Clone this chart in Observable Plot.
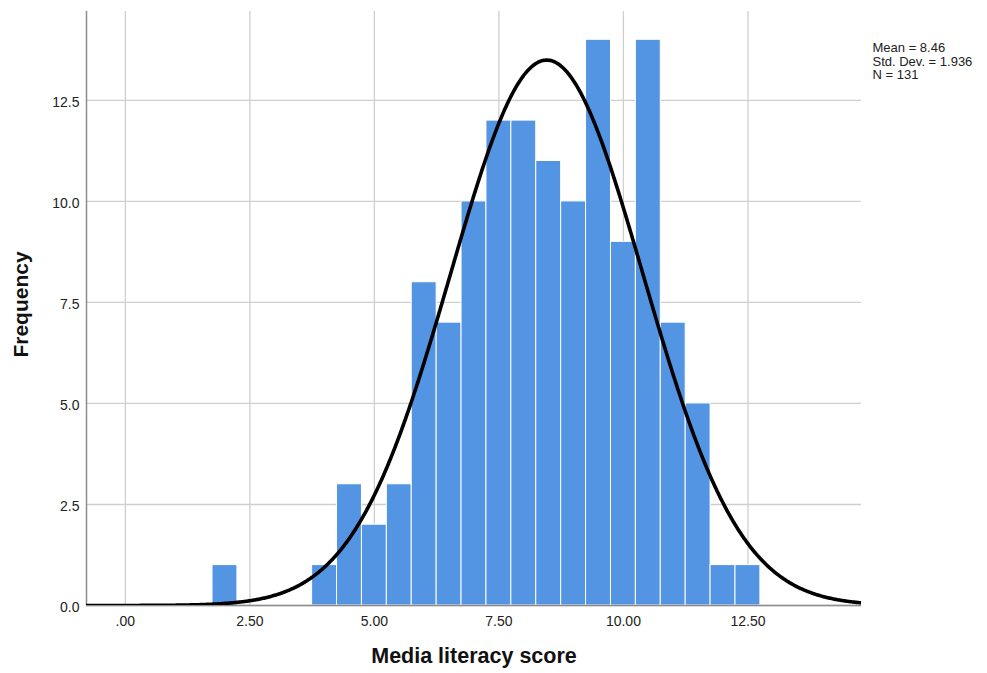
<!DOCTYPE html>
<html>
<head>
<meta charset="utf-8">
<script src="https://cdn.jsdelivr.net/npm/d3@7"></script>
<script src="https://cdn.jsdelivr.net/npm/@observablehq/plot@0.6"></script>
<style>
  html, body { margin: 0; padding: 0; background: #fff; }
  #chart { width: 987px; height: 673px; }
</style>
</head>
<body>
<div id="chart"></div>
<script>
// Histogram bins (centre of each 0.5-wide bin) and their frequencies
const binCenters = [2.0, 4.0, 4.5, 5.0, 5.5, 6.0, 6.5, 7.0, 7.5, 8.0, 8.5, 9.0, 9.5, 10.0, 10.5, 11.0, 11.5, 12.0, 12.5];
const frequencies = [1, 1, 3, 2, 3, 8, 7, 10, 12, 12, 11, 10, 14, 9, 14, 7, 5, 1, 1];
const binWidth = 0.5;

// Summary statistics shown in the legend (define the fitted normal curve)
const mean = 8.46;
const stdDev = 1.936;
const n = 131;

// Axis ticks
const xTicks = [0, 2.5, 5, 7.5, 10, 12.5];
const xTickLabels = [".00", "2.50", "5.00", "7.50", "10.00", "12.50"];
const yTicks = [0, 2.5, 5, 7.5, 10, 12.5];
const yTickLabels = ["0.0", "2.5", "5.0", "7.5", "10.0", "12.5"];

// Legend lines
const legendLines = [`Mean = ${mean}`, `Std. Dev. = ${stdDev}`, `N = ${n}`];

const xDomain = [-0.78, 14.78];
const yDomain = [0, 14.7];

const bars = binCenters.map((c, i) => ({x1: c - binWidth / 2, x2: c + binWidth / 2, y: frequencies[i]}));

// Normal curve scaled to the histogram: N * binWidth * pdf(x)
const curve = d3.range(xDomain[0], xDomain[1] + 0.001, 0.02).map(x => ({
  x,
  y: n * binWidth * Math.exp(-0.5 * ((x - mean) / stdDev) ** 2) / (stdDev * Math.sqrt(2 * Math.PI))
}));

const chart = Plot.plot({
  width: 987,
  height: 673,
  marginLeft: 86,
  marginRight: 126,
  marginTop: 11,
  marginBottom: 68,
  style: {fontFamily: "'Liberation Sans', Arial, sans-serif", fontSize: "14px", color: "#222", background: "#fff"},
  x: {domain: xDomain},
  y: {domain: yDomain},
  marks: [
    Plot.gridX(xTicks, {stroke: "#cfcfcf", strokeOpacity: 1, strokeWidth: 1.3}),
    Plot.gridY(yTicks, {stroke: "#cfcfcf", strokeOpacity: 1, strokeWidth: 1.3}),
    Plot.rectY(bars, {x1: "x1", x2: "x2", y: "y", fill: "#5394e3", stroke: "#ffffff", strokeWidth: 1}),
    Plot.ruleX([xDomain[0]], {stroke: "#8c8c8c", strokeWidth: 1.5}),
    Plot.ruleY([0], {stroke: "#8c8c8c", strokeWidth: 1.5}),
    Plot.line(curve, {x: "x", y: "y", stroke: "#000", strokeWidth: 3.6, clip: true}),
    Plot.axisX(xTicks, {tickSize: 0, tickPadding: 11, tickFormat: (d, i) => xTickLabels[i], fontSize: 14, fill: "#222", label: null}),
    Plot.axisY(yTicks, {tickSize: 0, tickPadding: 7, dy: 2.5, tickFormat: (d, i) => yTickLabels[i], fontSize: 14, fill: "#222", label: null}),
    Plot.text(["Media literacy score"], {frameAnchor: "bottom", dy: 57, textAnchor: "middle", fontWeight: "bold", fontSize: 21.5, fill: "#111"}),
    Plot.text(["Frequency"], {frameAnchor: "left", dx: -65, dy: -4, textAnchor: "middle", rotate: -90, fontWeight: "bold", fontSize: 21, fill: "#111"}),
    Plot.text([legendLines.join("\n")], {frameAnchor: "top-right", dx: 11, dy: 31, textAnchor: "start", lineAnchor: "top", lineHeight: 1.05, fontSize: 13, fill: "#222"})
  ]
});
document.getElementById("chart").appendChild(chart);
</script>
</body>
</html>
